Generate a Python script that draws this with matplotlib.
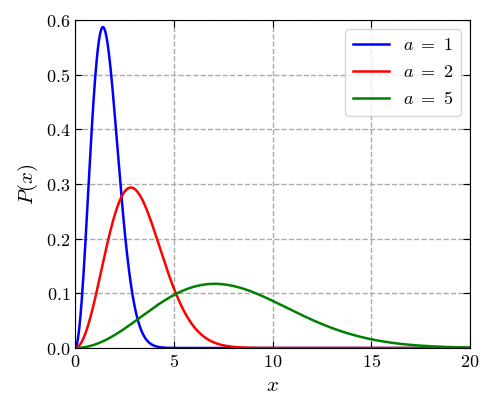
import numpy as np
import matplotlib
matplotlib.use("Agg")
import matplotlib.pyplot as plt

plt.rcParams['mathtext.fontset'] = 'cm'
plt.rcParams['font.family'] = 'serif'
plt.rcParams['font.serif'] = ['DejaVu Serif']

a_values = [1, 2, 5]
colors = ['blue', 'red', 'green']
labels = [r'$a\ =\ 1$', r'$a\ =\ 2$', r'$a\ =\ 5$']
x_ticks = [0, 5, 10, 15, 20]
y_ticks = [0.0, 0.1, 0.2, 0.3, 0.4, 0.5, 0.6]

x = np.linspace(0, 20, 1000)
fig, ax = plt.subplots(figsize=(5, 4), dpi=100)
for a, c, l in zip(a_values, colors, labels):
    p = np.sqrt(2/np.pi) * x**2 * np.exp(-x**2/(2*a**2)) / a**3
    ax.plot(x, p, color=c, lw=1.8, label=l)

ax.set_xlim(0, 20)
ax.set_ylim(0, 0.6)
ax.set_xticks(x_ticks)
ax.set_yticks(y_ticks)
ax.set_xticklabels([f'${t}$' for t in x_ticks], fontsize=13)
ax.set_yticklabels([f'${t:.1f}$' for t in y_ticks], fontsize=13)
ax.set_xlabel('$x$', fontsize=15)
ax.set_ylabel('$P(x)$', fontsize=15)
ax.tick_params(direction='in', top=True, right=True, length=5)
ax.grid(True, which='major', ls='--', color='#aaaaaa', lw=1)
ax.legend(loc='upper right', fontsize=13, edgecolor='#cccccc')
fig.subplots_adjust(left=0.15, right=0.94, top=0.95, bottom=0.13)
fig.savefig('out.png')
